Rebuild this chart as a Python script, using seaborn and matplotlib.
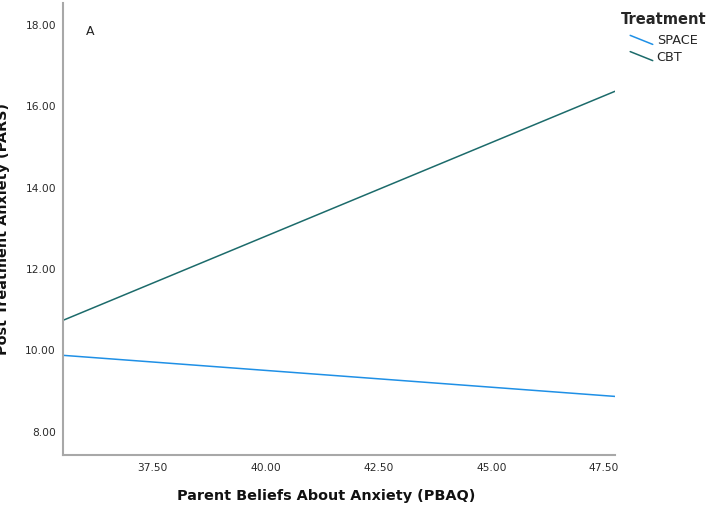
import numpy as np
import pandas as pd
import seaborn as sns
from matplotlib import pyplot as plt
from matplotlib.legend_handler import HandlerBase
from matplotlib.lines import Line2D

# simple slopes (endpoints at the axis limits)
pbaq = [35.51, 47.74]
space_pars = [9.88, 8.87]
cbt_pars = [10.74, 16.37]
groups = ['SPACE', 'CBT']
yticks = [8, 10, 12, 14, 16, 18]
xticks = [37.5, 40, 42.5, 45, 47.5]

colors = {'SPACE': '#1f90e6', 'CBT': '#1c6b6b'}


class DiagHandler(HandlerBase):
    # legend sample drawn as a short downward diagonal like the SPSS output
    def create_artists(self, legend, orig_handle, xdescent, ydescent,
                       width, height, fontsize, trans):
        ln = Line2D([-xdescent + 7, width - xdescent],
                    [height - ydescent, -ydescent],
                    color=orig_handle.get_color(), lw=1.1)
        ln.set_transform(trans)
        return [ln]


def main():
    df = pd.DataFrame({
        'PBAQ': pbaq * 2,
        'PARS': space_pars + cbt_pars,
        'Treatment': [groups[0]] * 2 + [groups[1]] * 2,
    })

    sns.set_style('white')
    plt.rcParams['font.family'] = ['DejaVu Sans']
    fig = plt.figure(figsize=(7.12, 5.12), dpi=100)
    ax = fig.add_axes([63 / 712, 1 - 455 / 512, 552 / 712, 452 / 512])

    sns.lineplot(data=df, x='PBAQ', y='PARS', hue='Treatment',
                 palette=colors, hue_order=groups, lw=1.1, ax=ax, legend=False)

    ax.set_xlim(35.51, 47.74)
    ax.set_ylim(7.43, 18.54)
    ax.set_xticks(xticks)
    ax.set_yticks(yticks)
    ax.set_xticklabels([f'{t:.2f}' for t in xticks])
    ax.set_yticklabels([f'{t:.2f}' for t in yticks])
    ax.tick_params(axis='both', length=0, labelsize=7.7, colors='#2a2a2a')
    ax.tick_params(axis='x', pad=6)
    ax.tick_params(axis='y', pad=5)

    for s in ['top', 'right']:
        ax.spines[s].set_visible(False)
    for s in ['left', 'bottom']:
        ax.spines[s].set_color('#a8a8a8')
        ax.spines[s].set_linewidth(1.5)

    ax.set_xlabel('Parent Beliefs About Anxiety (PBAQ)', fontsize=10.4,
                  fontweight='bold', color='#111111', va='top')
    ax.xaxis.set_label_coords(0.476, -0.075)
    ax.set_ylabel('Post Treatment Anxiety (PARS)', fontsize=10.4,
                  fontweight='bold', color='#111111')
    ax.yaxis.set_label_coords(-0.096, 0.5)

    ax.text(0.049, 0.938, 'A', transform=ax.transAxes, fontsize=9,
            color='#222222', va='center', ha='center')

    handles = [Line2D([], [], color=colors[g]) for g in groups]
    leg = fig.legend(handles, groups, title='Treatment',
                     handler_map={Line2D: DiagHandler()},
                     loc='upper left', bbox_to_anchor=(614 / 712, 1 - 6 / 512),
                     frameon=False, fontsize=9.3, handlelength=2.5,
                     handletextpad=0.3, labelspacing=0.25, borderpad=0,
                     title_fontproperties={'weight': 'bold', 'size': 10.5})
    leg._legend_box.align = 'left'
    leg._legend_box.sep = 5

    fig.savefig('out.png', dpi=100)


if __name__ == '__main__':
    main()
